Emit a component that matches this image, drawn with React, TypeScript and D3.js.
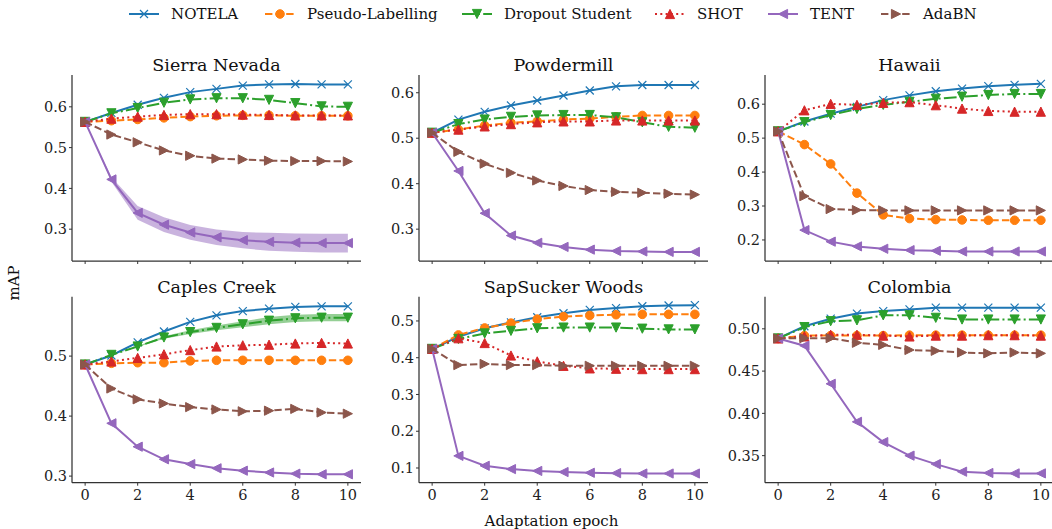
import React from 'react';
import * as d3 from 'd3';

const epochs = [0, 1, 2, 3, 4, 5, 6, 7, 8, 9, 10];
const xTicks = [0, 2, 4, 6, 8, 10];
const methods = ['NOTELA', 'Pseudo-Labelling', 'Dropout Student', 'SHOT', 'TENT', 'AdaBN'];
const colors = ['#1f77b4', '#ff7f0e', '#2ca02c', '#d62728', '#9467bd', '#8c564b'];
const dashes = ['', '7.4,3.2', '12.8,3.2,2,3.2', '2,3.3', '', '7.4,3.2'];
const markers = ['x', 'o', 'v', '^', '<', '>'];

const titles = ['Sierra Nevada', 'Powdermill', 'Hawaii', 'Caples Creek', 'SapSucker Woods', 'Colombia'];

// rows follow the order of `methods`
const sierraNevada = [
  [0.563, 0.585, 0.605, 0.622, 0.636, 0.644, 0.652, 0.655, 0.656, 0.655, 0.655],
  [0.563, 0.566, 0.569, 0.573, 0.576, 0.578, 0.579, 0.579, 0.578, 0.578, 0.578],
  [0.563, 0.584, 0.597, 0.610, 0.618, 0.621, 0.621, 0.617, 0.609, 0.601, 0.600],
  [0.563, 0.571, 0.576, 0.580, 0.582, 0.582, 0.581, 0.580, 0.579, 0.579, 0.579],
  [0.563, 0.422, 0.340, 0.311, 0.292, 0.280, 0.273, 0.269, 0.267, 0.266, 0.266],
  [0.563, 0.532, 0.513, 0.493, 0.480, 0.473, 0.471, 0.468, 0.467, 0.467, 0.466],
];
const powdermill = [
  [0.512, 0.541, 0.558, 0.572, 0.583, 0.594, 0.605, 0.614, 0.617, 0.617, 0.617],
  [0.512, 0.519, 0.528, 0.534, 0.537, 0.541, 0.543, 0.547, 0.550, 0.550, 0.550],
  [0.512, 0.531, 0.541, 0.547, 0.550, 0.551, 0.551, 0.546, 0.535, 0.525, 0.523],
  [0.512, 0.519, 0.526, 0.531, 0.535, 0.537, 0.537, 0.539, 0.539, 0.539, 0.539],
  [0.512, 0.428, 0.335, 0.286, 0.270, 0.261, 0.255, 0.252, 0.251, 0.250, 0.250],
  [0.512, 0.470, 0.444, 0.424, 0.407, 0.395, 0.386, 0.382, 0.380, 0.378, 0.376],
];
const hawaii = [
  [0.520, 0.549, 0.572, 0.592, 0.612, 0.626, 0.638, 0.646, 0.653, 0.657, 0.660],
  [0.520, 0.481, 0.424, 0.338, 0.274, 0.263, 0.260, 0.259, 0.258, 0.258, 0.258],
  [0.520, 0.547, 0.568, 0.586, 0.598, 0.607, 0.616, 0.622, 0.627, 0.630, 0.630],
  [0.520, 0.582, 0.601, 0.598, 0.604, 0.606, 0.597, 0.587, 0.580, 0.578, 0.578],
  [0.520, 0.229, 0.195, 0.181, 0.174, 0.170, 0.168, 0.166, 0.166, 0.166, 0.166],
  [0.520, 0.329, 0.291, 0.288, 0.287, 0.287, 0.287, 0.287, 0.287, 0.287, 0.287],
];
const caplesCreek = [
  [0.486, 0.501, 0.523, 0.541, 0.557, 0.568, 0.575, 0.579, 0.582, 0.583, 0.583],
  [0.486, 0.488, 0.489, 0.489, 0.492, 0.493, 0.493, 0.493, 0.493, 0.493, 0.493],
  [0.486, 0.502, 0.516, 0.531, 0.540, 0.547, 0.553, 0.559, 0.563, 0.564, 0.564],
  [0.486, 0.491, 0.497, 0.503, 0.510, 0.516, 0.518, 0.519, 0.521, 0.522, 0.521],
  [0.486, 0.388, 0.349, 0.328, 0.320, 0.313, 0.309, 0.306, 0.304, 0.303, 0.303],
  [0.486, 0.446, 0.428, 0.421, 0.415, 0.411, 0.408, 0.409, 0.412, 0.406, 0.404],
];
const sapsuckerWoods = [
  [0.424, 0.457, 0.480, 0.496, 0.510, 0.521, 0.530, 0.535, 0.540, 0.542, 0.543],
  [0.424, 0.462, 0.481, 0.494, 0.505, 0.512, 0.515, 0.517, 0.518, 0.518, 0.518],
  [0.424, 0.451, 0.466, 0.473, 0.480, 0.482, 0.482, 0.482, 0.479, 0.477, 0.477],
  [0.424, 0.453, 0.440, 0.406, 0.390, 0.378, 0.371, 0.370, 0.369, 0.369, 0.369],
  [0.424, 0.133, 0.106, 0.097, 0.092, 0.089, 0.087, 0.086, 0.085, 0.085, 0.085],
  [0.424, 0.380, 0.383, 0.380, 0.380, 0.378, 0.378, 0.378, 0.378, 0.378, 0.378],
];
const colombia = [
  [0.4886, 0.503, 0.512, 0.518, 0.521, 0.523, 0.525, 0.525, 0.525, 0.525, 0.525],
  [0.4886, 0.492, 0.492, 0.492, 0.492, 0.4925, 0.4925, 0.4925, 0.4925, 0.4925, 0.4925],
  [0.4886, 0.502, 0.509, 0.510, 0.516, 0.516, 0.513, 0.511, 0.511, 0.511, 0.511],
  [0.4886, 0.491, 0.493, 0.493, 0.492, 0.491, 0.492, 0.492, 0.4925, 0.4925, 0.492],
  [0.4886, 0.480, 0.435, 0.390, 0.366, 0.350, 0.340, 0.331, 0.3295, 0.329, 0.329],
  [0.4886, 0.489, 0.489, 0.4835, 0.481, 0.475, 0.474, 0.472, 0.471, 0.472, 0.471],
];
const panelData = [sierraNevada, powdermill, hawaii, caplesCreek, sapsuckerWoods, colombia];

// std bands (half widths) that are visible in the picture
const sierraTentBand = [0, 0.006, 0.017, 0.018, 0.018, 0.019, 0.020, 0.022, 0.0225, 0.023, 0.023];
const caplesDropoutBand = [0, 0, 0.001, 0.002, 0.003, 0.004, 0.005, 0.006, 0.006, 0.006, 0.006];
const bands = [
  { panel: 0, method: 4, half: sierraTentBand },
  { panel: 3, method: 2, half: caplesDropoutBand },
];

const yDomains = [
  [0.222, 0.678], [0.230, 0.639], [0.138, 0.686],
  [0.289, 0.599], [0.060, 0.566], [0.318, 0.538],
];
const yTicks = [
  [0.3, 0.4, 0.5, 0.6], [0.3, 0.4, 0.5, 0.6], [0.2, 0.3, 0.4, 0.5, 0.6],
  [0.3, 0.4, 0.5], [0.1, 0.2, 0.3, 0.4, 0.5], [0.35, 0.40, 0.45, 0.50],
];
const yFormats = ['.1f', '.1f', '.1f', '.1f', '.1f', '.2f'];

const colLeft = [72, 419, 765];
const rowTop = [75, 296.7];
const pw = 289;
const ph = 186;
const serif = { fontFamily: '"DejaVu Serif", serif' };
const legendX = [129, 265, 462, 655, 768, 881];

function markerPath(type: string, r: number) {
  switch (type) {
    case 'v': return `M${-r},${-r}L${r},${-r}L0,${r}Z`;
    case '^': return `M${-r},${r}L${r},${r}L0,${-r}Z`;
    case '<': return `M${r},${-r}L${r},${r}L${-r},0Z`;
    case '>': return `M${-r},${-r}L${-r},${r}L${r},0Z`;
    default: return `M${-r},${-r}L${r},${r}M${-r},${r}L${r},${-r}`;
  }
}

function Marker({ type, color, x, y }: { type: string; color: string; x: number; y: number }) {
  if (type === 'o') return <circle cx={x} cy={y} r={4.3} fill={color} stroke={color} strokeWidth={1} />;
  if (type === 'x')
    return <path d={markerPath('x', 4)} transform={`translate(${x},${y})`} fill="none" stroke={color} strokeWidth={1.2} />;
  return <path d={markerPath(type, 4.6)} transform={`translate(${x},${y})`} fill={color} stroke={color} strokeWidth={1} />;
}

function Panel({ idx }: { idx: number }) {
  const left = colLeft[idx % 3];
  const top = rowTop[Math.floor(idx / 3)];
  const bottomRow = idx >= 3;
  const x = d3.scaleLinear().domain([-0.5, 10.5]).range([0, pw]);
  const y = d3.scaleLinear().domain(yDomains[idx]).range([ph, 0]);
  const fmt = d3.format(yFormats[idx]);
  const line = d3.line<number>().x((_, i) => x(epochs[i])).y((v) => y(v));
  const data = panelData[idx];
  return (
    <g transform={`translate(${left},${top})`}>
      <text x={pw / 2} y={-4} textAnchor="middle" fontSize={17.5} style={serif} fill="#111">
        {titles[idx]}
      </text>
      {bands.filter((b) => b.panel === idx).map((b, k) => {
        const area = d3.area<number>()
          .x((_, i) => x(epochs[i]))
          .y0((v, i) => y(v - b.half[i]))
          .y1((v, i) => y(v + b.half[i]));
        return <path key={k} d={area(data[b.method]) || ''} fill={colors[b.method]} fillOpacity={0.5} stroke="none" />;
      })}
      {data.map((series, m) => (
        <g key={m}>
          <path d={line(series) || ''} fill="none" stroke={colors[m]} strokeWidth={2} strokeDasharray={dashes[m]} />
          {series.map((v, i) => (
            <Marker key={i} type={markers[m]} color={colors[m]} x={x(epochs[i])} y={y(v)} />
          ))}
        </g>
      ))}
      <line x1={0} x2={0} y1={0} y2={ph} stroke="#333" strokeWidth={1.25} />
      <line x1={0} x2={pw} y1={ph} y2={ph} stroke="#333" strokeWidth={1.25} />
      {yTicks[idx].map((t) => (
        <g key={t} transform={`translate(0,${y(t)})`}>
          <line x1={-3} x2={0} stroke="#333" strokeWidth={1} />
          <text x={-5} dy="0.36em" textAnchor="end" fontSize={14.5} style={serif} fill="#222">
            {fmt(t)}
          </text>
        </g>
      ))}
      {xTicks.map((t) => (
        <g key={t} transform={`translate(${x(t)},${ph})`}>
          <line y1={0} y2={3} stroke="#333" strokeWidth={1} />
          {bottomRow && (
            <text y={17.5} textAnchor="middle" fontSize={14.5} style={serif} fill="#222">
              {t}
            </text>
          )}
        </g>
      ))}
    </g>
  );
}

export default function App() {
  return (
    <svg width={1052} height={529} style={{ position: 'absolute', left: 0, top: 0, background: '#fff' }}>
      <g>
        {methods.map((name, m) => (
          <g key={name} transform={`translate(${legendX[m]},14)`}>
            <line x1={0} x2={30} stroke={colors[m]} strokeWidth={2} strokeDasharray={dashes[m]} />
            <Marker type={markers[m]} color={colors[m]} x={15} y={0} />
            <text x={42} dy="0.36em" fontSize={15} style={serif} fill="#111">
              {name}
            </text>
          </g>
        ))}
      </g>
      {titles.map((_, i) => (
        <Panel key={i} idx={i} />
      ))}
      <text transform="translate(19,283) rotate(-90)" textAnchor="middle" fontSize={15} style={serif} fill="#111">
        mAP
      </text>
      <text x={551.5} y={526} textAnchor="middle" fontSize={15} style={serif} fill="#111">
        Adaptation epoch
      </text>
    </svg>
  );
}
